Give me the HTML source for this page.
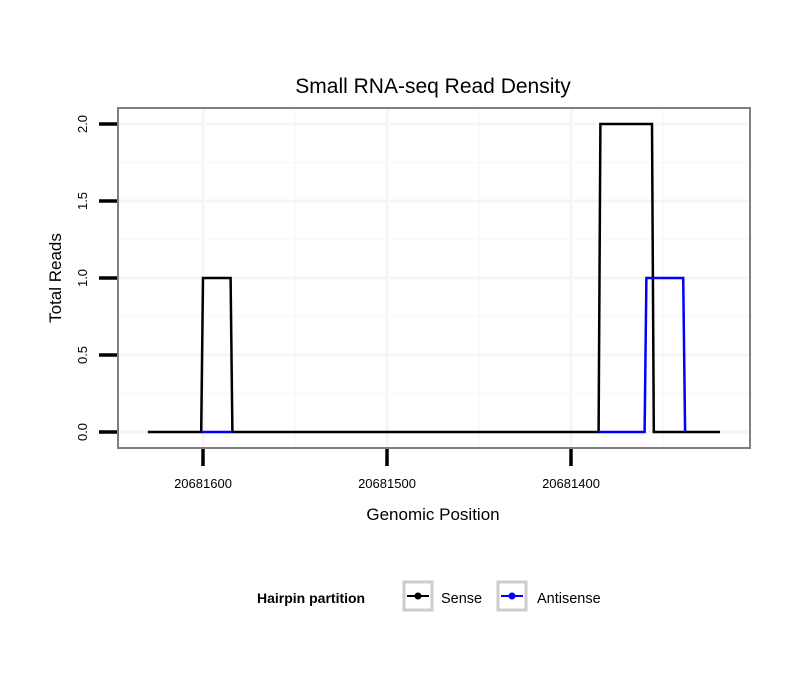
<!DOCTYPE html>
<html><head><meta charset="utf-8"><style>
html,body{margin:0;padding:0;background:#fff;}
svg{display:block;font-family:"Liberation Sans",sans-serif;}
</style></head><body>
<svg id="chart" width="810" height="690">
<rect x="0" y="0" width="810" height="690" fill="#fff"/>
<text x="433" y="93" font-size="21" text-anchor="middle" fill="#000">Small RNA-seq Read Density</text>
<g id="grid"></g>
<g id="series"></g>
<rect x="118" y="108" width="632" height="340" fill="none" stroke="#7f7f7f" stroke-width="2"/>
<g id="axes"></g>
<text x="433" y="520" font-size="17" text-anchor="middle">Genomic Position</text>
<text transform="translate(61,278) rotate(-90)" font-size="17" text-anchor="middle">Total Reads</text>
<g>
<text x="257" y="603" font-size="14" font-weight="bold">Hairpin partition</text>
<g>
<rect x="404" y="582" width="28" height="28" fill="#fff" stroke="#ccc" stroke-width="3"/>
<line x1="407" y1="596" x2="429" y2="596" stroke="#000" stroke-width="2"/>
<circle cx="418" cy="596" r="3.5" fill="#000"/>
<text x="441" y="603" font-size="14.5">Sense</text></g>
<g>
<rect x="498" y="582" width="28" height="28" fill="#fff" stroke="#ccc" stroke-width="3"/>
<line x1="501" y1="596" x2="523" y2="596" stroke="#00f" stroke-width="2"/>
<circle cx="512" cy="596" r="3.5" fill="#00f"/>
<text x="537" y="603" font-size="14.5">Antisense</text></g>
</g>
</svg>
<script>
const xTicks = [20681600, 20681500, 20681400];
const xMinor = [20681650, 20681550, 20681450, 20681350];
const yTicks = [0, 0.5, 1, 1.5, 2];
const yTickLabels = ["0.0", "0.5", "1.0", "1.5", "2.0"];
const yMinor = [0.25, 0.75, 1.25, 1.75];
const sensePos = [20681630, 20681601, 20681600, 20681585, 20681584, 20681385, 20681384, 20681356, 20681355, 20681319];
const senseVal = [0, 0, 1, 1, 0, 0, 2, 2, 0, 0];
const antiPosA = [20681601, 20681584];
const antiValA = [0, 0];
const antiPosB = [20681385, 20681360, 20681359, 20681339, 20681338];
const antiValB = [0, 0, 1, 1, 0];

const NS = "http://www.w3.org/2000/svg";
function xs(p){ return 203 + (20681600 - p) * 1.84; }
function ys(v){ return 432 - v * 154; }
function mk(tag, attrs, parent){
  const e = document.createElementNS(NS, tag);
  for (const k in attrs) e.setAttribute(k, attrs[k]);
  parent.appendChild(e); return e;
}
const grid = document.getElementById('grid');
const axes = document.getElementById('axes');
const series = document.getElementById('series');
xMinor.forEach(p => { const x = xs(p); if (x > 118 && x < 750) {
  const l = mk('line', {x1:x, x2:x, y1:109, y2:447, stroke:'#fafafa', 'stroke-width':2}, grid);
  
   }});
xTicks.forEach(p => { const x = xs(p);
  const l = mk('line', {x1:x, x2:x, y1:109, y2:447, stroke:'#f5f5f5', 'stroke-width':3}, grid);
  
   });
yMinor.forEach(v => { const y = ys(v);
  const l = mk('line', {x1:119, x2:749, y1:y, y2:y, stroke:'#fafafa', 'stroke-width':2}, grid);
  
   });
yTicks.forEach(v => { const y = ys(v);
  const l = mk('line', {x1:119, x2:749, y1:y, y2:y, stroke:'#f5f5f5', 'stroke-width':3}, grid);
  
   });
xTicks.forEach(p => { const x = xs(p);
  const t = mk('line', {x1:x, x2:x, y1:449, y2:466, stroke:'#000', 'stroke-width':3.5}, axes);
  
  
  const tx = mk('text', {x:x, y:488, 'font-size':13, 'text-anchor':'middle'}, axes);
  tx.textContent = String(p);
  
   });
yTicks.forEach((v, i) => { const y = ys(v);
  const t = mk('line', {x1:99, x2:117, y1:y, y2:y, stroke:'#000', 'stroke-width':3.5}, axes);
  
  
  const tx = mk('text', {transform:'translate(87,' + y + ') rotate(-90)', 'font-size':13, 'text-anchor':'middle'}, axes);
  tx.textContent = yTickLabels[i];
  
   });
function path(pos, val, color, name){
  const d = pos.map((p, i) => (i ? 'L' : 'M') + xs(p).toFixed(1) + ',' + ys(val[i]).toFixed(1)).join(' ');
  const e = mk('path', {d:d, fill:'none', stroke:color, 'stroke-width':2.5}, series);
  
  
}
path(sensePos, senseVal, '#000', 'sense-line');
path(antiPosA, antiValA, '#00f', 'antisense-line-1');
path(antiPosB, antiValB, '#00f', 'antisense-line-2');
</script>
</body></html>
